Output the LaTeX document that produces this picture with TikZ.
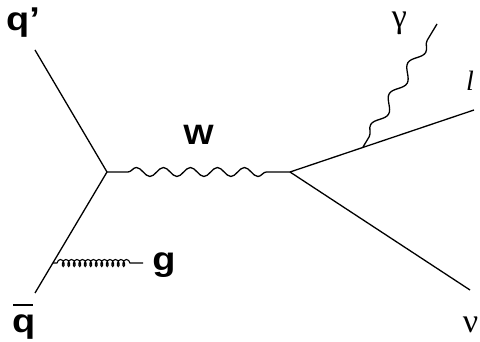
\documentclass[tikz,border=0pt]{standalone}
\usepackage{fontspec}
\setsansfont{Liberation Sans}
\newfontfamily\greekfont{Liberation Serif}
\usetikzlibrary{decorations.pathmorphing}
\newcommand{\wide}[1]{\scalebox{1.15}[1]{#1}}
\tikzset{
  fermion/.style={line width=1.3pt},
  boson/.style={line width=1.3pt, decorate,
    decoration={snake, segment length=27pt, amplitude=4.5pt, pre length=21pt, post length=20pt}},
  photon/.style={line width=1.3pt, decorate,
    decoration={snake, segment length=36pt, amplitude=5pt, pre length=12pt, post length=12pt}},
  gluon/.style={line width=1.1pt, decorate,
    decoration={coil, aspect=0.6, segment length=5.5pt, amplitude=3.5pt, pre length=4pt, post length=8pt}},
  sflabel/.style={font=\sffamily\bfseries\fontsize{33}{34}\selectfont, inner sep=0pt},
  wlabel/.style={font=\sffamily\bfseries\fontsize{28}{30}\selectfont, inner sep=0pt},
  grlabel/.style={font=\greekfont\fontsize{34}{36}\selectfont, inner sep=0pt},
  itlabel/.style={font=\greekfont\itshape\fontsize{28}{30}\selectfont, inner sep=0pt},
}
\begin{document}
\begin{tikzpicture}[x=1pt, y=-1pt]
  \useasboundingbox (0,0) rectangle (480,342);
  % vertices and line ends
  \coordinate (qp)  at (35,50);
  \coordinate (v1)  at (107,172);
  \coordinate (qb)  at (35,293);
  \coordinate (gv)  at (53,263);
  \coordinate (gend) at (143,263);
  \coordinate (v2)  at (290,172);
  \coordinate (lend) at (474,110);
  \coordinate (nend) at (470,290);
  \coordinate (pv)  at (363,147);
  \coordinate (pend) at (437,24);
  % incoming quarks
  \draw[fermion] (qp) -- (v1);
  \draw[fermion] (v1) -- (qb);
  % gluon emission
  \draw[gluon] (gv) -- (gend);
  % W propagator
  \draw[boson] (v1) -- (v2);
  % outgoing leptons
  \draw[fermion] (v2) -- (lend);
  \draw[fermion] (v2) -- (nend);
  % photon radiation
  \draw[photon] (pv) -- (pend);
  % labels
  \node[sflabel, anchor=base west] (lqp) at (6,31) {\wide{q’}};
  \node[sflabel, anchor=base west] (lqb) at (12,333) {\wide{q}};
  \draw[line width=1.2pt] (13,305) -- (33,305);
  \node[sflabel, anchor=base] (lg) at (164,271) {\wide{g}};
  \node[wlabel, anchor=base] (lW) at (198.5,145) {\wide{W}};
  \node[grlabel] (lgam) at (399.5,23) {γ};
  \node[itlabel, anchor=base] (ll) at (470,91) {l};
  \node[grlabel, anchor=base] (lnu) at (470.5,332) {ν};
\end{tikzpicture}
\end{document}
